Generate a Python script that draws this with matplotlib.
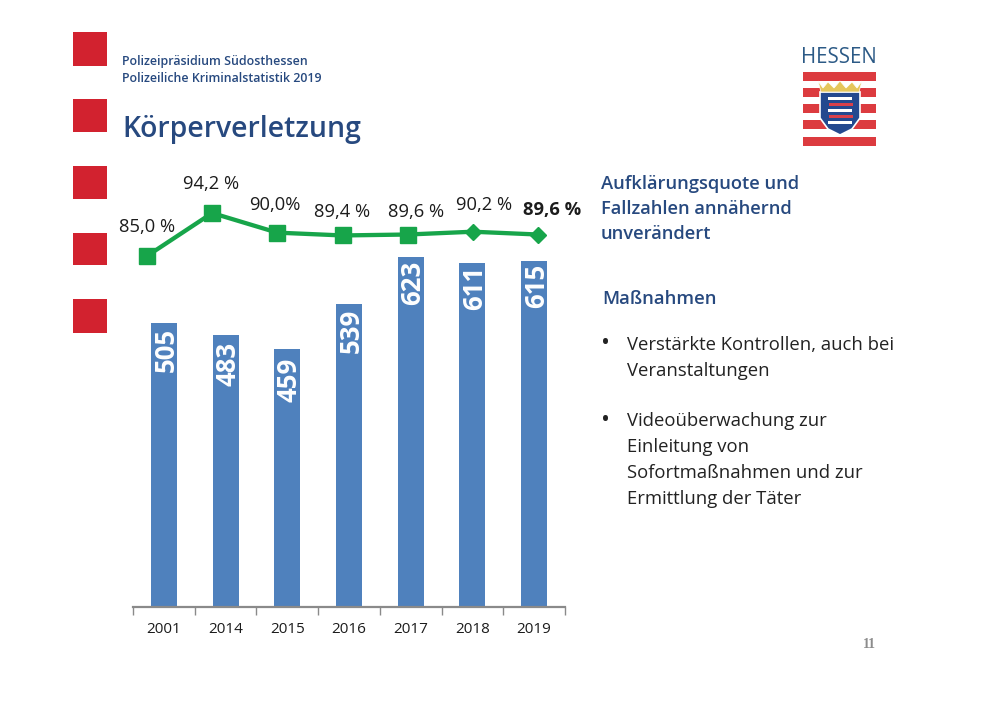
import matplotlib
matplotlib.use("Agg")
import matplotlib.pyplot as plt
from matplotlib.patches import Rectangle, Polygon

plt.rcParams['font.family'] = ['Open Sans', 'DejaVu Sans']

# Chart data
years = ['2001', '2014', '2015', '2016', '2017', '2018', '2019']
cases = [505, 483, 459, 539, 623, 611, 615]
clearance = [85.0, 94.2, 90.0, 89.4, 89.6, 90.2, 89.6]
clearance_labels = ['85,0 %', '94,2 %', '90,0%', '89,4 %', '89,6 %', '90,2 %', '89,6 %']

W, H = 1000, 707
NAVY = '#27497f'
BLUE = '#4f81bd'
GREEN = '#17a54a'
RED = '#d2222f'


def axes_px(fig, left, top, right, bottom):
    """Axes placed by pixel edges, measured from the top left of the page."""
    return fig.add_axes([left / W, 1 - bottom / H, (right - left) / W, (bottom - top) / H])


fig = plt.figure(figsize=(W / 100, H / 100), dpi=100, facecolor='white')

# Page layer in pixel coordinates
page = fig.add_axes([0, 0, 1, 1], zorder=0)
page.set_xlim(0, W)
page.set_ylim(H, 0)
page.axis('off')

for top, bottom in [(32, 66), (99, 132), (166, 199), (233, 265), (299, 333)]:
    page.add_patch(Rectangle((73, top), 34, bottom - top, color=RED, lw=0))

page.text(122, 61.5, 'Polizeipräsidium Südosthessen', fontsize=8.9, fontweight='semibold',
          color=NAVY, va='center')
page.text(122, 78.5, 'Polizeiliche Kriminalstatistik 2019', fontsize=8.9, fontweight='semibold',
          color=NAVY, va='center')
page.text(122, 130, 'Körperverletzung', fontsize=20.4, fontweight='semibold', color=NAVY, va='center')

# Hessen logo
page.text(839, 57.5, 'HESSEN', fontsize=14.8, color='#2c5a86', ha='center', va='center')
LOGO_RED = '#dc3b3f'
page.add_patch(Rectangle((803, 72), 73, 8.5, color=LOGO_RED, lw=0))
page.add_patch(Rectangle((803, 137), 73, 9, color=LOGO_RED, lw=0))
for top in (88, 104, 120):
    page.add_patch(Rectangle((803, top), 73, 8.5, color=LOGO_RED, lw=0))
page.add_patch(Polygon([(820, 92), (860, 92), (860, 118), (852, 129), (840, 135), (828, 129), (820, 118)],
                       closed=True, fc='#24498f', ec='white', lw=1.2, zorder=3))
page.add_patch(Polygon([(818, 81), (823, 88), (828, 82), (834, 88), (840, 81), (846, 88), (852, 82),
                        (857, 88), (862, 81), (859, 92), (821, 92)],
                       closed=True, fc='#e5c65c', ec='white', lw=0.5, zorder=4))
for i, y in enumerate((97, 103, 109, 115, 121)):
    page.add_patch(Rectangle((828 + i % 2, y), 24, 3.2, color='#d9404a' if i % 2 else 'white', lw=0, zorder=4))

# Right-hand text column
for y, line in zip((184, 209, 234), ('Aufklärungsquote und', 'Fallzahlen annähernd', 'unverändert')):
    page.text(601, y, line, fontsize=13.2, fontweight='semibold', color=NAVY, va='center')
page.text(602, 299.5, 'Maßnahmen', fontsize=13.3, fontweight='semibold', color=NAVY, va='center')

for y in (344, 421):
    page.text(601, y, '•', fontsize=17, color='#222222', va='center')
body = [(344.5, 'Verstärkte Kontrollen, auch bei'), (370.5, 'Veranstaltungen'),
        (421.5, 'Videoüberwachung zur'), (447.5, 'Einleitung von'),
        (473.5, 'Sofortmaßnahmen und zur'), (499.5, 'Ermittlung der Täter')]
for y, line in body:
    page.text(627, y, line, fontsize=13.3, color='#222222', va='center')

page.text(869, 645, '11', fontsize=10, family='Liberation Serif', fontweight='bold',
          color='#8c8c8c', ha='center', va='center')

# Case counts as bars
ax = axes_px(fig, 133, 200, 565, 607)
ax.patch.set_alpha(0)
ax.set_zorder(1)
positions = list(range(len(years)))
ax.bar(positions, cases, width=0.42, color=BLUE)
ax.set_xlim(-0.5, 6.5)
ax.set_ylim(0, 407 / 0.5624)
ax.set_yticks([])
for side in ('left', 'right', 'top'):
    ax.spines[side].set_visible(False)
ax.spines['bottom'].set_color('#8a8a8a')
ax.spines['bottom'].set_linewidth(1.6)
ax.set_xticks([p - 0.5 for p in positions] + [6.5])
ax.set_xticklabels([])
ax.tick_params(axis='x', direction='out', length=6, width=1, color='#8a8a8a')
for p, year in zip(positions, years):
    ax.annotate(year, (p, 0), xytext=(0, -15), textcoords='offset pixels', ha='center', va='top',
                fontsize=11, color='#1c1c1c')

bar_label_drop = [27, 29, 31, 27, 26, 25, 25]
for p, value, drop in zip(positions, cases, bar_label_drop):
    ax.annotate(str(value), (p, value), xytext=(2, -drop), textcoords='offset pixels',
                rotation=90, ha='center', va='center', fontsize=18.5, fontweight='bold', color='white')

# Clearance rate as a line on its own scale
line_ax = axes_px(fig, 114.4, 160, 570.6, 280)
line_ax.set_zorder(2)
line_ax.patch.set_alpha(0)
line_ax.axis('off')
line_ax.set_xlim(-0.5, 6.5)
line_ax.set_ylim(85.0 - 24 / 4.67, 85.0 + 96 / 4.67)
line_ax.plot(positions, clearance, color=GREEN, lw=3.1, solid_joinstyle='round')
line_ax.plot(positions[:5], clearance[:5], ls='none', marker='s', ms=11, color=GREEN)
line_ax.plot(positions[5:], clearance[5:], ls='none', marker='D', ms=8, color=GREEN)

label_offsets = [(0, 29), (-1, 29), (-3, 28), (0, 23), (8, 23), (11, 27), (14, 25)]
label_weights = ['normal'] * 6 + ['bold']
for p, value, text, (dx, dy), weight in zip(positions, clearance, clearance_labels, label_offsets, label_weights):
    line_ax.annotate(text, (p, value), xytext=(dx, dy), textcoords='offset pixels', ha='center', va='center',
                     fontsize=13.2, fontweight=weight, color='#1c1c1c')

fig.savefig('out.png', dpi=100, facecolor='white')
